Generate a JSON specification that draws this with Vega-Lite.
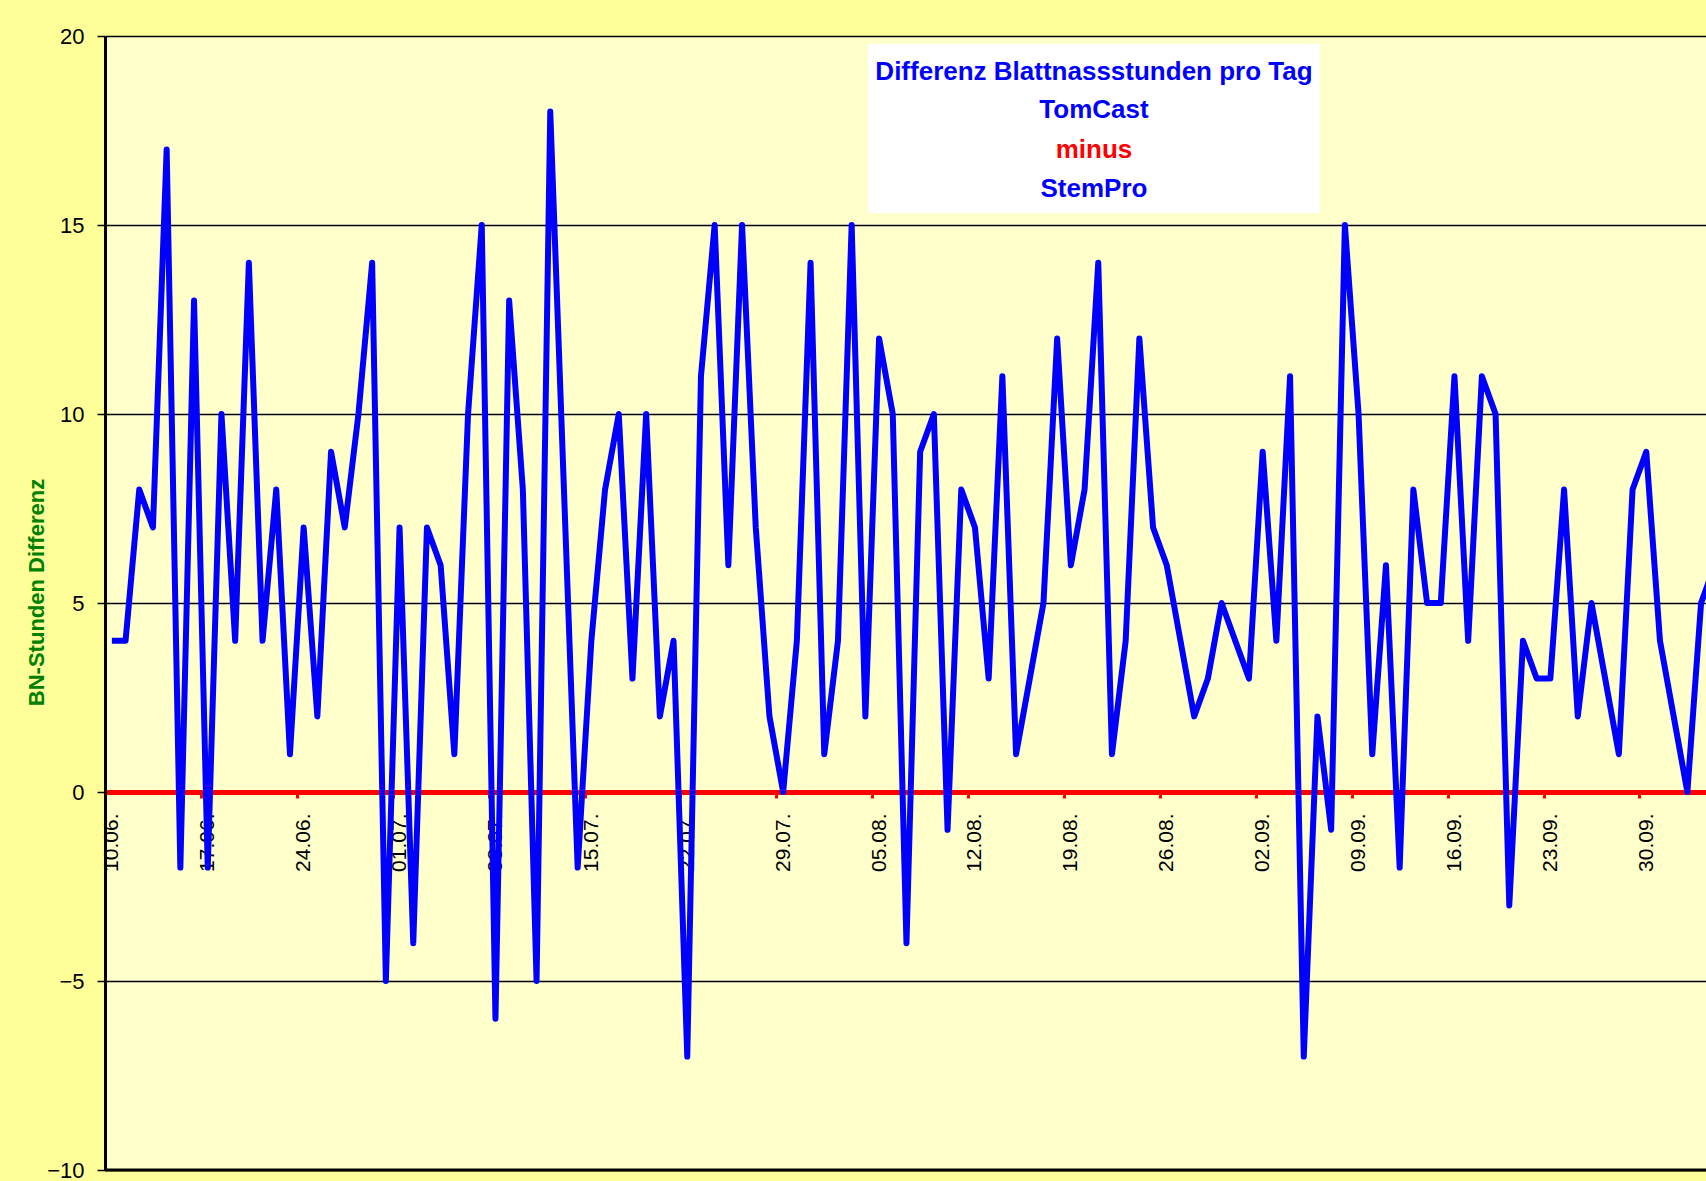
{
  "$schema": "https://vega.github.io/schema/vega-lite/v6.json",
  "autosize": {"type": "none"},
  "width": 1601,
  "height": 1134,
  "padding": {"left": 105, "top": 36, "right": 0, "bottom": 11},
  "background": "#FFFF99",
  "config": {"view": {"fill": "#FFFFCC", "stroke": null}, "font": "Liberation Sans"},
  "layer": [
    {
      "data": {"values": [
        {"date": "2009-06-10", "value": 4}, {"date": "2009-06-11", "value": 4}, {"date": "2009-06-12", "value": 8}, {"date": "2009-06-13", "value": 7},
        {"date": "2009-06-14", "value": 17}, {"date": "2009-06-15", "value": -2}, {"date": "2009-06-16", "value": 13}, {"date": "2009-06-17", "value": -2},
        {"date": "2009-06-18", "value": 10}, {"date": "2009-06-19", "value": 4}, {"date": "2009-06-20", "value": 14}, {"date": "2009-06-21", "value": 4},
        {"date": "2009-06-22", "value": 8}, {"date": "2009-06-23", "value": 1}, {"date": "2009-06-24", "value": 7}, {"date": "2009-06-25", "value": 2},
        {"date": "2009-06-26", "value": 9}, {"date": "2009-06-27", "value": 7}, {"date": "2009-06-28", "value": 10}, {"date": "2009-06-29", "value": 14},
        {"date": "2009-06-30", "value": -5},
        {"date": "2009-07-01", "value": 7}, {"date": "2009-07-02", "value": -4}, {"date": "2009-07-03", "value": 7}, {"date": "2009-07-04", "value": 6},
        {"date": "2009-07-05", "value": 1}, {"date": "2009-07-06", "value": 10}, {"date": "2009-07-07", "value": 15}, {"date": "2009-07-08", "value": -6},
        {"date": "2009-07-09", "value": 13}, {"date": "2009-07-10", "value": 8}, {"date": "2009-07-11", "value": -5}, {"date": "2009-07-12", "value": 18},
        {"date": "2009-07-13", "value": 8}, {"date": "2009-07-14", "value": -2}, {"date": "2009-07-15", "value": 4}, {"date": "2009-07-16", "value": 8},
        {"date": "2009-07-17", "value": 10}, {"date": "2009-07-18", "value": 3}, {"date": "2009-07-19", "value": 10}, {"date": "2009-07-20", "value": 2},
        {"date": "2009-07-21", "value": 4}, {"date": "2009-07-22", "value": -7}, {"date": "2009-07-23", "value": 11}, {"date": "2009-07-24", "value": 15},
        {"date": "2009-07-25", "value": 6}, {"date": "2009-07-26", "value": 15}, {"date": "2009-07-27", "value": 7}, {"date": "2009-07-28", "value": 2},
        {"date": "2009-07-29", "value": 0}, {"date": "2009-07-30", "value": 4}, {"date": "2009-07-31", "value": 14},
        {"date": "2009-08-01", "value": 1}, {"date": "2009-08-02", "value": 4}, {"date": "2009-08-03", "value": 15}, {"date": "2009-08-04", "value": 2},
        {"date": "2009-08-05", "value": 12}, {"date": "2009-08-06", "value": 10}, {"date": "2009-08-07", "value": -4}, {"date": "2009-08-08", "value": 9},
        {"date": "2009-08-09", "value": 10}, {"date": "2009-08-10", "value": -1}, {"date": "2009-08-11", "value": 8}, {"date": "2009-08-12", "value": 7},
        {"date": "2009-08-13", "value": 3}, {"date": "2009-08-14", "value": 11}, {"date": "2009-08-15", "value": 1}, {"date": "2009-08-16", "value": 3},
        {"date": "2009-08-17", "value": 5}, {"date": "2009-08-18", "value": 12}, {"date": "2009-08-19", "value": 6}, {"date": "2009-08-20", "value": 8},
        {"date": "2009-08-21", "value": 14}, {"date": "2009-08-22", "value": 1}, {"date": "2009-08-23", "value": 4}, {"date": "2009-08-24", "value": 12},
        {"date": "2009-08-25", "value": 7}, {"date": "2009-08-26", "value": 6}, {"date": "2009-08-27", "value": 4}, {"date": "2009-08-28", "value": 2},
        {"date": "2009-08-29", "value": 3}, {"date": "2009-08-30", "value": 5}, {"date": "2009-08-31", "value": 4},
        {"date": "2009-09-01", "value": 3}, {"date": "2009-09-02", "value": 9}, {"date": "2009-09-03", "value": 4}, {"date": "2009-09-04", "value": 11},
        {"date": "2009-09-05", "value": -7}, {"date": "2009-09-06", "value": 2}, {"date": "2009-09-07", "value": -1}, {"date": "2009-09-08", "value": 15},
        {"date": "2009-09-09", "value": 10}, {"date": "2009-09-10", "value": 1}, {"date": "2009-09-11", "value": 6}, {"date": "2009-09-12", "value": -2},
        {"date": "2009-09-13", "value": 8}, {"date": "2009-09-14", "value": 5}, {"date": "2009-09-15", "value": 5}, {"date": "2009-09-16", "value": 11},
        {"date": "2009-09-17", "value": 4}, {"date": "2009-09-18", "value": 11}, {"date": "2009-09-19", "value": 10}, {"date": "2009-09-20", "value": -3},
        {"date": "2009-09-21", "value": 4}, {"date": "2009-09-22", "value": 3}, {"date": "2009-09-23", "value": 3}, {"date": "2009-09-24", "value": 8},
        {"date": "2009-09-25", "value": 2}, {"date": "2009-09-26", "value": 5}, {"date": "2009-09-27", "value": 3}, {"date": "2009-09-28", "value": 1},
        {"date": "2009-09-29", "value": 8}, {"date": "2009-09-30", "value": 9},
        {"date": "2009-10-01", "value": 4}, {"date": "2009-10-02", "value": 2}, {"date": "2009-10-03", "value": 0}, {"date": "2009-10-04", "value": 5},
        {"date": "2009-10-05", "value": 6}
      ]},
      "mark": {"type": "line", "color": "#0000FF", "strokeWidth": 6, "strokeJoin": "round", "clip": true},
      "encoding": {
        "x": {
          "field": "date", "type": "temporal",
          "scale": {"type": "utc", "domain": [
            {"year": 2009, "month": 6, "date": 9, "hours": 12, "utc": true},
            {"year": 2009, "month": 10, "date": 4, "hours": 8, "minutes": 38, "utc": true}
          ]},
          "axis": {
            "title": null, "orient": "bottom", "offset": -378, "grid": false,
            "values": [
              {"year": 2009, "month": 6, "date": 10, "utc": true},
              {"year": 2009, "month": 6, "date": 17, "utc": true},
              {"year": 2009, "month": 6, "date": 24, "utc": true},
              {"year": 2009, "month": 7, "date": 1, "utc": true},
              {"year": 2009, "month": 7, "date": 8, "utc": true},
              {"year": 2009, "month": 7, "date": 15, "utc": true},
              {"year": 2009, "month": 7, "date": 22, "utc": true},
              {"year": 2009, "month": 7, "date": 29, "utc": true},
              {"year": 2009, "month": 8, "date": 5, "utc": true},
              {"year": 2009, "month": 8, "date": 12, "utc": true},
              {"year": 2009, "month": 8, "date": 19, "utc": true},
              {"year": 2009, "month": 8, "date": 26, "utc": true},
              {"year": 2009, "month": 9, "date": 2, "utc": true},
              {"year": 2009, "month": 9, "date": 9, "utc": true},
              {"year": 2009, "month": 9, "date": 16, "utc": true},
              {"year": 2009, "month": 9, "date": 23, "utc": true},
              {"year": 2009, "month": 9, "date": 30, "utc": true}
            ],
            "labelExpr": "utcFormat(datum.value, '%d.%m.')",
            "labelAngle": 270, "labelFontSize": 21, "labelFont": "Liberation Sans",
            "labelColor": "#000000", "labelPadding": 15, "labelFlush": false, "labelOverlap": false, "labelBound": false,
            "domainColor": "#FF0000", "domainWidth": 5, "tickColor": "#FF0000", "tickWidth": 3, "tickSize": 6,
            "tickOffset": -6.85, "labelOffset": 6.85
          }
        },
        "y": {
          "field": "value", "type": "quantitative",
          "scale": {"domain": [-10, 20], "nice": false, "zero": false},
          "axis": {
            "title": "BN-Stunden Differenz", "values": [-10, -5, 0, 5, 10, 15, 20],
            "labelFontSize": 22, "labelFont": "Liberation Sans", "labelColor": "#000000", "labelPadding": 13,
            "tickSize": 8, "tickColor": "#000000", "tickWidth": 1.5,
            "domainColor": "#000000", "domainWidth": 3,
            "grid": true, "gridColor": "#000000", "gridWidth": 1.3, "gridOpacity": 1,
            "titleColor": "#008000", "titleFont": "Liberation Sans", "titleFontWeight": "bold", "titleFontSize": 22,
            "titleX": -62, "titleY": 556, "titleAngle": 270, "titleBaseline": "alphabetic", "titleAlign": "center"
          }
        }
      }
    },
    {
      "data": {"values": [{}]},
      "mark": {"type": "rule", "color": "#000000", "strokeWidth": 3},
      "encoding": {"y": {"datum": -10, "type": "quantitative"}}
    },
    {
      "data": {"values": [{}]},
      "mark": {"type": "rect", "fill": "#FFFFFF"},
      "encoding": {
        "x": {"datum": {"year": 2009, "month": 8, "date": 4, "hours": 4, "minutes": 30, "utc": true}, "type": "temporal"},
        "x2": {"datum": {"year": 2009, "month": 9, "date": 6, "hours": 4, "minutes": 20, "utc": true}},
        "y": {"datum": 19.79, "type": "quantitative"},
        "y2": {"datum": 15.32}
      }
    },
    {
      "data": {"values": [{}]},
      "mark": {"type": "text", "text": "Differenz Blattnassstunden pro Tag", "color": "#0000FF", "font": "Liberation Sans", "fontWeight": "bold", "fontSize": 26, "align": "center", "baseline": "alphabetic"},
      "encoding": {
        "x": {"datum": {"year": 2009, "month": 8, "date": 20, "hours": 16, "minutes": 30, "utc": true}, "type": "temporal"},
        "y": {"datum": 18.84, "type": "quantitative"}
      }
    },
    {
      "data": {"values": [{}]},
      "mark": {"type": "text", "text": "TomCast", "color": "#0000FF", "font": "Liberation Sans", "fontWeight": "bold", "fontSize": 26, "align": "center", "baseline": "alphabetic"},
      "encoding": {
        "x": {"datum": {"year": 2009, "month": 8, "date": 20, "hours": 16, "minutes": 30, "utc": true}, "type": "temporal"},
        "y": {"datum": 17.83, "type": "quantitative"}
      }
    },
    {
      "data": {"values": [{}]},
      "mark": {"type": "text", "text": "minus", "color": "#FF0000", "font": "Liberation Sans", "fontWeight": "bold", "fontSize": 26, "align": "center", "baseline": "alphabetic"},
      "encoding": {
        "x": {"datum": {"year": 2009, "month": 8, "date": 20, "hours": 16, "minutes": 30, "utc": true}, "type": "temporal"},
        "y": {"datum": 16.77, "type": "quantitative"}
      }
    },
    {
      "data": {"values": [{}]},
      "mark": {"type": "text", "text": "StemPro", "color": "#0000FF", "font": "Liberation Sans", "fontWeight": "bold", "fontSize": 26, "align": "center", "baseline": "alphabetic"},
      "encoding": {
        "x": {"datum": {"year": 2009, "month": 8, "date": 20, "hours": 16, "minutes": 30, "utc": true}, "type": "temporal"},
        "y": {"datum": 15.74, "type": "quantitative"}
      }
    }
  ]
}
